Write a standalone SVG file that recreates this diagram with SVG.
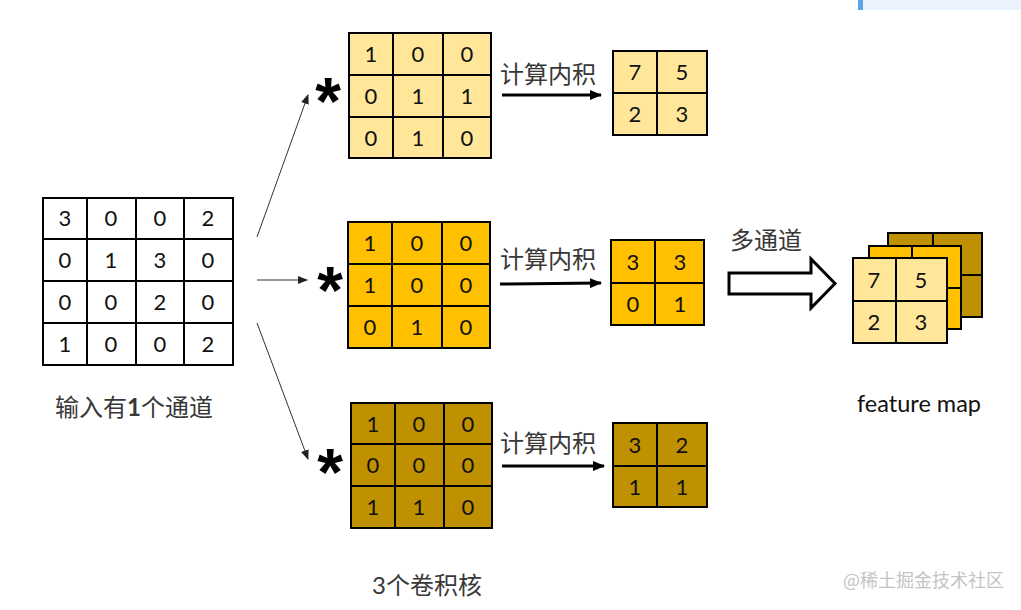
<svg xmlns="http://www.w3.org/2000/svg" width="1021" height="610" viewBox="0 0 1021 610">
<defs>
<marker id="thin" markerWidth="10" markerHeight="8" refX="9" refY="4" orient="auto" markerUnits="userSpaceOnUse"><path d="M0,0 L10,4 L0,8 Z" fill="#222"/></marker>
<marker id="thick" markerWidth="12" markerHeight="10" refX="11" refY="5" orient="auto" markerUnits="userSpaceOnUse"><path d="M0,0 L12,5 L0,10 Z" fill="#000"/></marker>
</defs>
<style>
.g{stroke:#000;stroke-width:2}
.d{font-family:Lato,"Open Sans","Liberation Sans",sans-serif;font-size:22px;fill:#111;text-anchor:middle}
.cn{font-family:"Noto Sans CJK SC","Noto Sans",sans-serif;font-size:24px;fill:#383838}
.ast{font-family:"Liberation Sans",sans-serif;font-weight:bold;font-size:66px;fill:#000;text-anchor:middle}
.l1{fill:#FFE699}.l2{fill:#FFC000}.l3{fill:#BF9000}
</style>
<rect width="1021" height="610" fill="#fff"/>
<rect x="858" y="0" width="163" height="10" fill="#EAF2FE"/>
<rect x="858" y="0" width="5" height="10" fill="#5EA3EA"/>

<g id="input">
<rect x="43" y="198" width="190" height="167" fill="#fff" class="g"/>
<path class="g" d="M87,198V365M136,198V365M184,198V365M43,239H233M43,281H233M43,323H233"/>
<g class="d">
<text x="65" y="226">3</text><text x="111" y="226">0</text><text x="160" y="226">0</text><text x="208" y="226">2</text>
<text x="65" y="268">0</text><text x="111" y="268">1</text><text x="160" y="268">3</text><text x="208" y="268">0</text>
<text x="65" y="310">0</text><text x="111" y="310">0</text><text x="160" y="310">2</text><text x="208" y="310">0</text>
<text x="65" y="352">1</text><text x="111" y="352">0</text><text x="160" y="352">0</text><text x="208" y="352">2</text>
</g>
<text class="cn" x="55" y="416" font-size="25">输入有<tspan font-family="Lato,sans-serif" font-weight="bold">1</tspan>个通道</text>
</g>

<g id="kernel1">
<rect x="349" y="33" width="142" height="125" class="g l1"/>
<path class="g" d="M393,33V158M443,33V158M349,75H491M349,117H491"/>
<g class="d">
<text x="371" y="62">1</text><text x="418" y="62">0</text><text x="467" y="62">0</text>
<text x="371" y="104">0</text><text x="418" y="104">1</text><text x="467" y="104">1</text>
<text x="371" y="146">0</text><text x="418" y="146">1</text><text x="467" y="146">0</text>
</g>
</g>
<g id="kernel2">
<rect x="348" y="222" width="142" height="126" class="g l2"/>
<path class="g" d="M392,222V348M442,222V348M348,264H490M348,306H490"/>
<g class="d">
<text x="370" y="251">1</text><text x="417" y="251">0</text><text x="466" y="251">0</text>
<text x="370" y="293">1</text><text x="417" y="293">0</text><text x="466" y="293">0</text>
<text x="370" y="335">0</text><text x="417" y="335">1</text><text x="466" y="335">0</text>
</g>
</g>
<g id="kernel3">
<rect x="351" y="403" width="141" height="125" class="g l3"/>
<path class="g" d="M395,403V528M444,403V528M351,444H492M351,486H492"/>
<g class="d">
<text x="373" y="432">1</text><text x="419" y="432">0</text><text x="468" y="432">0</text>
<text x="373" y="473">0</text><text x="419" y="473">0</text><text x="468" y="473">0</text>
<text x="373" y="515">1</text><text x="419" y="515">1</text><text x="468" y="515">0</text>
</g>
<text class="cn" x="372" y="594" font-size="25"><tspan font-family="Lato,sans-serif">3</tspan>个卷积核</text>
</g>

<g id="out1">
<rect x="613" y="51" width="94" height="84" class="g l1"/>
<path class="g" d="M657,51V135M613,93H707"/>
<g class="d"><text x="635" y="80">7</text><text x="682" y="80">5</text><text x="635" y="122">2</text><text x="682" y="122">3</text></g>
</g>
<g id="out2">
<rect x="611" y="240" width="93" height="85" class="g l2"/>
<path class="g" d="M655,240V325M611,283H704"/>
<g class="d"><text x="633" y="270">3</text><text x="680" y="270">3</text><text x="633" y="312">0</text><text x="680" y="312">1</text></g>
</g>
<g id="out3">
<rect x="613" y="423" width="94" height="84" class="g l3"/>
<path class="g" d="M657,423V507M613,466H707"/>
<g class="d"><text x="635" y="453">3</text><text x="682" y="453">2</text><text x="635" y="495">1</text><text x="682" y="495">1</text></g>
</g>

<g id="featuremap">
<rect x="888" y="233" width="94" height="84" class="g l3"/>
<path class="g" d="M933,233V317M888,275H982"/>
<rect x="869" y="246" width="92" height="83" class="g l2"/>
<path class="g" d="M912,246V329M869,288H961"/>
<rect x="853" y="258" width="94" height="85" class="g l1"/>
<path class="g" d="M896,258V343M853,301H947"/>
<g class="d"><text x="874" y="288">7</text><text x="921" y="288">5</text><text x="874" y="330">2</text><text x="921" y="330">3</text></g>
<text x="857" y="412" font-family="Lato,'Open Sans',sans-serif" font-size="23.5" fill="#111">feature map</text>
</g>

<g id="labels">
<text class="ast" x="328" y="124">*</text>
<text class="ast" x="330" y="313">*</text>
<text class="ast" x="330" y="495">*</text>
<text class="cn" x="500" y="83">计算内积</text>
<text class="cn" x="500" y="268">计算内积</text>
<text class="cn" x="500" y="452">计算内积</text>
<text class="cn" x="730" y="249" font-size="25">多通道</text>
<text x="843" y="587" font-family="'Noto Sans CJK SC',sans-serif" font-size="18" fill="#C4C4C4">@稀土掘金技术社区</text>
</g>

<g id="connectors">
<line x1="257" y1="237" x2="308" y2="95" stroke="#333" stroke-width="1" marker-end="url(#thin)"/>
<line x1="257" y1="280" x2="307" y2="280" stroke="#333" stroke-width="1" marker-end="url(#thin)"/>
<line x1="257" y1="323" x2="308" y2="459" stroke="#333" stroke-width="1" marker-end="url(#thin)"/>
<line x1="502" y1="95" x2="601" y2="95" stroke="#000" stroke-width="3" marker-end="url(#thick)"/>
<line x1="500" y1="284" x2="601" y2="283" stroke="#000" stroke-width="3" marker-end="url(#thick)"/>
<line x1="502" y1="466" x2="604" y2="466" stroke="#000" stroke-width="3" marker-end="url(#thick)"/>
<path d="M729,273H811V259L835,283.5L811,308V294H729Z" fill="#fff" stroke="#000" stroke-width="3" stroke-linejoin="miter"/>
</g>
</svg>
